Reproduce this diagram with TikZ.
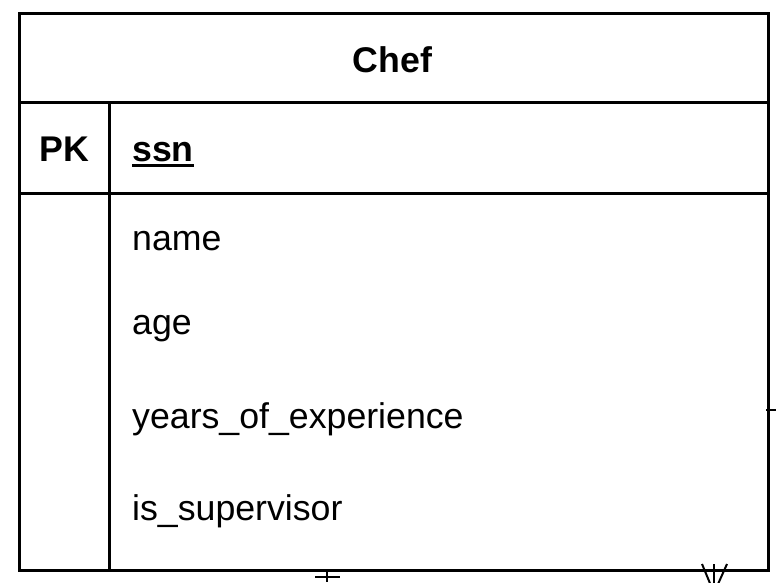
\documentclass[tikz,border=0pt]{standalone}
\usepackage{fontspec}
\setmainfont{Liberation Sans}
\usetikzlibrary{calc}
\begin{document}
\begin{tikzpicture}[x=1pt,y=-1pt,
  ent/.style={draw, line width=3pt, inner sep=0pt, outer sep=0pt},
  sep/.style={line width=3pt},
  lbl/.style={inner sep=0pt, anchor=base west, font={\fontsize{35.7}{42}\selectfont}},
  blbl/.style={inner sep=0pt, anchor=base west, font={\fontsize{35.7}{42}\selectfont\bfseries}},
  rel/.style={line width=2pt}]
\useasboundingbox (0,0) rectangle (776,582);
\fill[white] (0,0) rectangle (776,582);
% entity
\node[ent, minimum width=749pt, minimum height=557pt, anchor=north west] (chef) at (19,13) {};
\coordinate (h1) at (19,102);
\coordinate (h2) at (19,193);
\coordinate (vd) at (109,102);
\draw[sep] (h1) -- (h1 -| chef.east);
\draw[sep] (h2) -- (h2 -| chef.east);
\draw[sep] (vd) -- (vd |- chef.south);
% texts
\node[blbl, anchor=base] (title) at (392.5,72) {Chef};
\node[blbl] (pk) at (39,161) {PK};
\node[blbl] (ssn) at (132,161) {ssn};
\draw[line width=3pt] ($(ssn.base west)+(0,4.5)$) -- ($(ssn.base east)+(0,4.5)$);
\node[lbl] (name) at (132,250) {name};
\node[lbl] (age) at (132,334) {age};
\node[lbl] (yoe) at (132,428) {years\_of\_experience};
\node[lbl] (sup) at (132,520) {is\_supervisor};
% connectors leaving the picture
\coordinate (e1) at (327,582);
\draw[rel] (chef.south -| e1) -- (e1);
\draw[rel] ($(e1)+(-12,-5)$) -- ($(e1)+(13,-5)$);
\coordinate (e2) at (776,410);
\draw[rel] ($(chef.east |- e2)+(-2,0)$) -- (e2);
\coordinate (e3) at (714,593);
\draw[rel] (chef.south -| e3) -- (e3);
\draw[rel] (e3) -- (702,564);
\draw[rel] (e3) -- (714,564);
\draw[rel] (e3) -- (727,564);
\end{tikzpicture}
\end{document}
